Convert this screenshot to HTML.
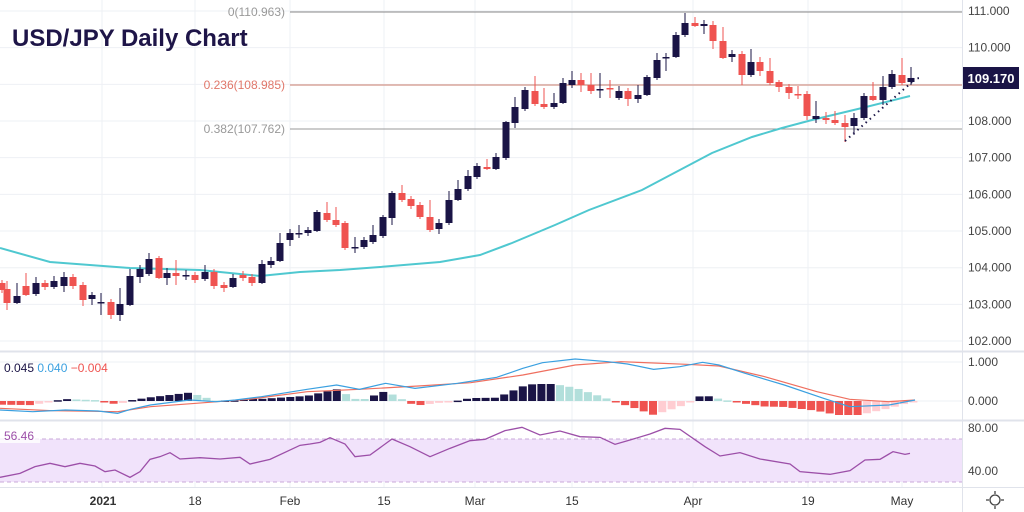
<!DOCTYPE html>
<html><head><meta charset="utf-8"><style>
html,body{margin:0;padding:0;background:#fff;}
svg{display:block;font-family:"Liberation Sans",sans-serif;}
</style></head><body>
<svg id="s" width="1024" height="512" viewBox="0 0 1024 512" xmlns="http://www.w3.org/2000/svg">
<rect width="1024" height="512" fill="#fff"/>
<g id="grid" stroke="#eef0f4" stroke-width="1"></g>
<rect x="0" y="439" width="962" height="43" fill="#f1e3fb"/>
<line x1="0" y1="439" x2="962" y2="439" stroke="#c9a9d8" stroke-dasharray="4,3"/>
<line x1="0" y1="482" x2="962" y2="482" stroke="#c9a9d8" stroke-dasharray="4,3"/>
<line x1="0" y1="351.5" x2="1024" y2="351.5" stroke="#e0e3eb" stroke-width="2"/>
<line x1="0" y1="420.5" x2="1024" y2="420.5" stroke="#e0e3eb" stroke-width="2"/>
<line x1="0" y1="487.5" x2="1024" y2="487.5" stroke="#e0e3eb" stroke-width="1"/>
<line x1="962.5" y1="0" x2="962.5" y2="512" stroke="#e0e3eb"/>
<g id="fib"></g>
<g id="c"></g>
<g id="ind"></g>
<g id="txt" fill="#555" font-size="12"></g>
<text x="12" y="46" font-size="24" font-weight="bold" fill="#1e1548">USD/JPY Daily Chart</text>
<rect x="963" y="67" width="56" height="22" fill="#1a1446"/>
<text x="991" y="83" font-size="13" font-weight="bold" fill="#fff" text-anchor="middle">109.170</text>
<text x="4" y="372" font-size="12"><tspan fill="#1a1446">0.045</tspan> <tspan fill="#3aa0e0">0.040</tspan> <tspan fill="#ef5350">−0.004</tspan></text>
<rect x="0" y="429" width="40" height="14" fill="#fff" opacity="0.8"/>
<text x="4" y="440" font-size="12" fill="#9c4fa8">56.46</text>
<circle cx="995" cy="500" r="5" fill="none" stroke="#444" stroke-width="1.3"/>
<g stroke="#444" stroke-width="1.3"><line x1="995" y1="491" x2="995" y2="494"/><line x1="995" y1="506" x2="995" y2="509"/><line x1="986" y1="500" x2="989" y2="500"/><line x1="1001" y1="500" x2="1004" y2="500"/></g>
</svg>
<script>
const NS="http://www.w3.org/2000/svg";
function el(p,t,a,txt){const e=document.createElementNS(NS,t);for(const k in a)e.setAttribute(k,a[k]);if(txt!=null)e.textContent=txt;document.getElementById(p).appendChild(e);return e;}
const py=p=>11+(111-p)*36.67;
[102,195,290,384,475,572,693,808,902].forEach(x=>el('grid','line',{x1:x,y1:0,x2:x,y2:487}));
for(let p=102;p<=111;p++)el('grid','line',{x1:0,y1:py(p),x2:962,y2:py(p)});
el('grid','line',{x1:0,y1:362,x2:962,y2:362});el('grid','line',{x1:0,y1:401,x2:962,y2:401});
[111,110,108,107,106,105,104,103,102].forEach(p=>el('txt','text',{x:968,y:py(p)+4,'font-size':12,fill:'#444'},p.toFixed(3)));
el('txt','text',{x:968,y:366,fill:'#444'},'1.000');el('txt','text',{x:968,y:405,fill:'#444'},'0.000');
el('txt','text',{x:968,y:432,fill:'#444'},'80.00');el('txt','text',{x:968,y:475,fill:'#444'},'40.00');
[[103,'2021',1],[195,'18'],[290,'Feb'],[384,'15'],[475,'Mar'],[572,'15'],[693,'Apr'],[808,'19'],[902,'May']].forEach(d=>el('txt','text',{x:d[0],y:505,'text-anchor':'middle',fill:'#333','font-weight':d[2]?'bold':'normal'},d[1]));
el('fib','line',{x1:290,y1:12,x2:962,y2:12,stroke:'#888'});
el('fib','line',{x1:290,y1:85,x2:962,y2:85,stroke:'#d9a59c','stroke-width':1.5});
el('fib','line',{x1:290,y1:129,x2:962,y2:129,stroke:'#999'});
el('fib','text',{x:285,y:16,'text-anchor':'end','font-size':12,fill:'#999'},'0(110.963)');
el('fib','text',{x:285,y:89,'text-anchor':'end','font-size':12,fill:'#e0776a'},'0.236(108.985)');
el('fib','text',{x:285,y:133,'text-anchor':'end','font-size':12,fill:'#999'},'0.382(107.762)');
const ma=[[0,248],[50,262],[130,268],[200,270],[260,276],[300,272],[340,270],[380,267],[440,262],[480,255],[512,243],[555,225],[589,210],[642,190],[712,153],[752,137],[782,128],[812,120],[862,108],[910,96]];
el('c','polyline',{points:ma.map(p=>p.join(',')).join(' '),fill:'none',stroke:'#4fc8d0','stroke-width':2});
const C=[[2,283,290,0],[7,289,303,0,281,310],[17,296,303,1,283,304],[26,286,295,0,273,296],[36,283,294,1,277,296],[45,283,287,0],[54,281,287,1,276,289],[64,277,286,1,272,292],[73,277,286,0],[83,285,300,0,282,306],[92,295,299,1,292,305],[101,302,302,1,293,315],[111,302,315,0,299,319],[120,304,315,1,288,321],[130,276,305,1,269,306],[140,269,277,1,265,283],[149,259,274,1,253,276],[159,258,278,0,256,279],[167,273,278,1,268,285],[176,273,276,0,260,285],[186,275,275,1,270,280],[195,275,280,0],[205,272,279,1,265,281],[214,272,286,0],[224,285,288,0,282,292],[233,278,287,1,274,288],[243,275,278,0,271,281],[252,277,283,0,274,286],[262,264,283,1,260,284],[271,261,265,1,257,268],[280,243,261,1,233,262],[290,233,240,1,229,246],[299,233,233,1,225,238],[308,230,233,1,227,236],[317,212,231,1,210,232],[327,213,220,0,202,222],[336,220,225,0,207,227],[345,223,248,0,221,250],[355,247,247,1,237,253],[364,240,247,1,237,249],[373,235,242,1,225,244],[383,217,236,1,215,238],[392,193,218,1,191,225],[402,193,200,0,185,202],[411,199,206,0,196,209],[420,205,217,0,202,219],[430,217,230,0,200,232],[439,223,229,1,219,234],[449,200,223,1,191,225],[458,189,200,1,180,201],[468,176,189,1,170,191],[477,166,177,1,163,179],[487,167,169,0,159,170],[496,157,169,1,153,170],[506,122,158,1,121,160],
[515,107,123,1,97,128],[525,90,109,1,87,111],[535,91,104,0,76,106],[544,104,107,0,88,109],[554,103,107,1,93,109],[563,83,103,1,78,104],[572,80,85,1,71,88],[581,80,85,0,73,92],[591,85,91,0,73,94],[600,89,89,1,73,98],[610,88,88,0,80,98],[619,91,98,1,86,100],[628,91,99,0,88,106],[638,95,99,1,85,103],[647,77,95,1,75,96],[657,60,78,1,53,80],[666,57,57,1,53,71],[676,35,57,1,32,58],[685,23,35,1,13,37],[695,23,26,0,17,27],[704,24,26,1,20,34],[713,25,41,0,21,49],[723,41,58,0,27,59],[732,54,57,1,50,62],[742,54,75,0,51,85],[751,62,75,1,49,77],[760,62,71,0,57,76],[770,71,83,0,58,85],[779,82,87,0,80,92],[789,87,93,0,84,99],[798,94,94,0,86,99],[807,94,116,0,91,120],[816,116,119,1,101,123],[826,118,120,0,112,124],[835,120,123,0,111,125],[845,123,127,0,115,142],[854,118,126,1,113,135],[864,96,118,1,93,120],[873,96,100,0,82,101],[883,87,100,1,76,105],[892,74,87,1,70,89],[902,75,83,0,58,85],[911,78,82,1,67,85]];
C.forEach(c=>{const[x,a,b,d,wt,wb]=c;const col=d?'#1a1446':'#ef5350';const t=Math.min(a,b),bt=Math.max(a,b);
el('c','line',{x1:x,y1:wt||t-3,x2:x,y2:wb||bt+3,stroke:col,'stroke-width':1});
el('c','rect',{x:x-3.5,y:t,width:7,height:Math.max(bt-t,1.5),fill:col});});
el('c','line',{x1:845,y1:141,x2:912,y2:82,stroke:'#1a1446','stroke-width':2,'stroke-dasharray':'1.5,4'});
el('c','line',{x1:912,y1:79,x2:920,y2:78,stroke:'#1a1446','stroke-width':2,'stroke-dasharray':'1.5,4'});
const sx=1/1.53;
const conv=a=>a.map(p=>[p[0]*sx,p[1]/3+340]);
const blue=conv([[0,210],[50,215],[100,210],[150,213],[180,220],[200,208],[230,195],[290,180],[330,185],[360,180],[400,170],[470,148],[515,135],[550,148],[590,130],[635,145],[700,130],[760,112],[800,85],[830,68],[880,57],[930,65],[960,72],[1000,88],[1040,80],[1075,67],[1100,75],[1140,100],[1200,135],[1260,175],[1300,200],[1360,195],[1400,180]]);
const red=conv([[0,205],[80,212],[180,215],[230,200],[300,190],[380,178],[470,155],[550,148],[640,138],[720,128],[800,105],[880,75],[950,65],[1050,73],[1100,78],[1170,110],[1250,155],[1300,178],[1360,185],[1400,180]]);
function interp(a,x){for(let i=1;i<a.length;i++)if(x<=a[i][0]){const t=(x-a[i-1][0])/(a[i][0]-a[i-1][0]);return a[i-1][1]+t*(a[i][1]-a[i-1][1]);}return a[a.length-1][1];}
let prev=0;
for(let x=2;x<=915;x+=9.3){let h=(interp(red,x)-interp(blue,x))*2.2;h=Math.max(-14,Math.min(17,h));
let col;if(h>=0)col=h>=prev?'#1a1446':'#b2dfdb';else col=h<=prev?'#ef5350':'#ffcdd2';prev=h;
const y0=401;el('ind','rect',{x:x-4,y:h>=0?y0-h:y0,width:8,height:Math.max(Math.abs(h),1.5),fill:col});}
el('ind','polyline',{points:red.map(p=>p.join(',')).join(' '),fill:'none',stroke:'#ef6f5f','stroke-width':1.2});
el('ind','polyline',{points:blue.map(p=>p.join(',')).join(' '),fill:'none',stroke:'#3aa0e0','stroke-width':1.2});
const rsi=[[0,412],[20,400],[35,380],[50,370],[65,380],[80,370],[95,378],[105,395],[115,390],[130,412],[140,395],[150,358],[160,350],[170,338],[180,357],[200,353],[220,357],[240,352],[250,372],[270,358],[300,316],[310,312],[320,307],[330,293],[345,312],[355,350],[370,345],[392,297],[410,320],[430,350],[450,325],[470,302],[485,298],[505,272],[522,262],[540,285],[560,273],[580,290],[600,292],[615,313],[630,300],[650,282],[665,265],[680,268],[705,320],[720,348],[740,338],[760,357],[790,372],[800,395],[830,403],[850,392],[865,360],[880,358],[893,335],[905,343],[910,340]];
el('ind','polyline',{points:rsi.map(p=>[p[0]*sx*1.53,p[1]/3+340]).map(p=>p.join(',')).join(' '),fill:'none',stroke:'#9c4fa8','stroke-width':1.3});
</script>
</body></html>
